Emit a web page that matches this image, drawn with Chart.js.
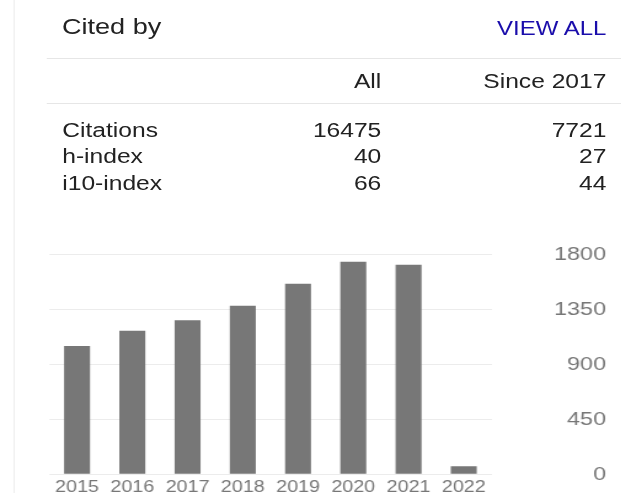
<!DOCTYPE html>
<html>
<head>
<meta charset="utf-8">
<script src="https://cdn.jsdelivr.net/npm/chart.js@4"></script>
<style>
  html, body { margin: 0; padding: 0; background: #fff; overflow: hidden; }
  body { font-family: Arial, "Liberation Sans", sans-serif; color: #222; }
  /* the widget is laid out narrow and stretched sideways, like the picture */
  #widget { position: absolute; left: 0; top: 0; width: 505px; height: 510px;
            transform: scaleX(1.23); transform-origin: 0 0; }
  .txt { position: absolute; white-space: nowrap; line-height: 1; }
  .right { text-align: right; }
  .rule { position: absolute; height: 1px; background: #e6e6e6; }
  #side { position: absolute; left: 10.6px; top: 0; width: 1.6px; height: 510px; background: #eee; }
  #chartBox { position: absolute; left: 30px; top: 240px; width: 475px; height: 265px; }
  #citeChart { width: 475px; height: 265px; }
</style>
</head>
<body>
<div id="widget">
  <div id="side"></div>
  <div class="txt" id="title" style="left:50.4px; top:16.4px; font-size:22px;">Cited by</div>
  <div class="txt right" id="viewAll" style="right:12px; top:18.5px; font-size:19.5px; color:#1a0dab;">VIEW ALL</div>
  <div class="rule" style="left:38.2px; right:0; top:58px;"></div>
  <div class="rule" style="left:38.2px; right:0; top:103px;"></div>
  <div id="table"></div>
  <div id="chartBox"><canvas id="citeChart" width="475" height="265"></canvas></div>
</div>
<script>
// table values
const columnHeads = ["All", "Since 2017"];
const rowLabels = ["Citations", "h-index", "i10-index"];
const allValues = [16475, 40, 66];
const sinceValues = [7721, 27, 44];

// chart values
const years = ["2015", "2016", "2017", "2018", "2019", "2020", "2021", "2022"];
const citations = [1050, 1175, 1260, 1380, 1560, 1740, 1715, 66];
const yTicks = [0, 450, 900, 1350, 1800];

const tableDiv = document.getElementById("table");
const fontSize = 20;
const colRight = [195, 12]; // distance from right edge of widget

function addText(text, top, opts) {
    const el = document.createElement("div");
    el.className = "txt";
    el.textContent = text;
    el.style.top = top + "px";
    el.style.fontSize = fontSize + "px";
    if (opts.left !== undefined) el.style.left = opts.left + "px";
    if (opts.right !== undefined) el.style.right = opts.right + "px";
    tableDiv.appendChild(el);
}

// header row
const headBase = 87.7;
columnHeads.forEach((h, i) => addText(h, headBase - 0.8465 * fontSize, { right: colRight[i] }));

// body rows
const rowBases = [136.7, 163.3, 190];
rowLabels.forEach((label, i) => {
    const top = rowBases[i] - 0.8465 * fontSize;
    addText(label, top, { left: 50.6 });
    addText(String(allValues[i]), top, { right: colRight[0] });
    addText(String(sinceValues[i]), top, { right: colRight[1] });
});

const ctx = document.getElementById("citeChart").getContext("2d");
new Chart(ctx, {
    type: "bar",
    data: {
        labels: years,
        datasets: [{
            data: citations,
            backgroundColor: "#777777",
            borderWidth: 0,
            categoryPercentage: 1,
            barPercentage: 0.47
        }]
    },
    options: {
        responsive: false,
        animation: false,
        layout: { padding: { left: 10.2, top: 14.3, right: 12.3, bottom: 3.5 } },
        plugins: { legend: { display: false }, tooltip: { enabled: false } },
        scales: {
            x: {
                grid: { display: false, drawTicks: false },
                border: { display: false },
                ticks: {
                    color: "#777",
                    padding: 4,
                    maxRotation: 0,
                    autoSkip: false,
                    font: { family: "Arial, 'Liberation Sans', sans-serif", size: 16 }
                }
            },
            y: {
                position: "right",
                min: 0,
                max: 1800,
                afterBuildTicks: scale => { scale.ticks = yTicks.map(v => ({ value: v })); },
                // labels sit right-aligned at the far edge of a wide axis
                afterFit: scale => { scale.width = 93.2; },
                grid: { color: "#ececec", lineWidth: 1, drawTicks: false },
                border: { display: false },
                ticks: {
                    color: "#777",
                    padding: 2,
                    crossAlign: "far",
                    callback: v => String(v),
                    font: { family: "Arial, 'Liberation Sans', sans-serif", size: 19 }
                }
            }
        }
    }
});
</script>
</body>
</html>
